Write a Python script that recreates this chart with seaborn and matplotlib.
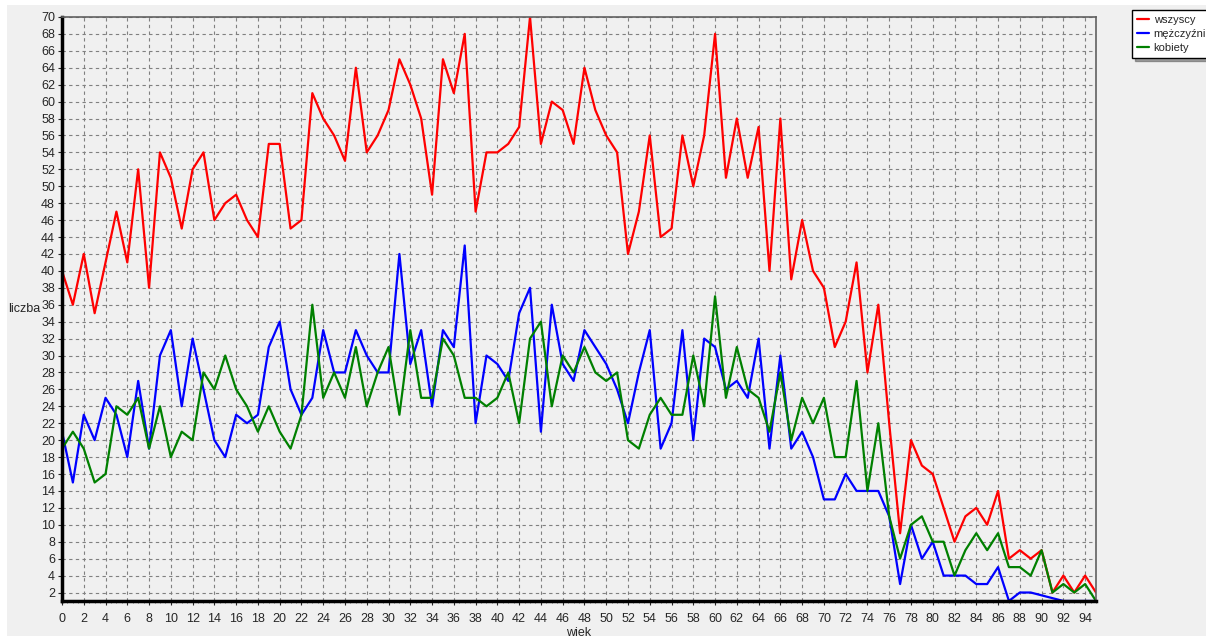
import matplotlib
matplotlib.use("Agg")
import matplotlib.pyplot as plt
from matplotlib.patches import Rectangle
from matplotlib.ticker import MultipleLocator
import seaborn as sns

# --- dane ---
wiek = list(range(96))

wszyscy = [40, 36, 42, 35, 41, 47, 41, 52, 38, 54,
           51, 45, 52, 54, 46, 48, 49, 46, 44, 55,
           55, 45, 46, 61, 58, 56, 53, 64, 54, 56,
           59, 65, 62, 58, 49, 65, 61, 68, 47, 54,
           54, 55, 57, 70, 55, 60, 59, 55, 64, 59,
           56, 54, 42, 47, 56, 44, 45, 56, 50, 56,
           68, 51, 58, 51, 57, 40, 58, 39, 46, 40,
           38, 31, 34, 41, 28, 36, 22, 9, 20, 17,
           16, 12, 8, 11, 12, 10, 14, 6, 7, 6,
           7, 2, 4, 2, 4, 2]

kobiety = [19, 21, 19, 15, 16, 24, 23, 25, 19, 24,
           18, 21, 20, 28, 26, 30, 26, 24, 21, 24,
           21, 19, 23, 36, 25, 28, 25, 31, 24, 28,
           31, 23, 33, 25, 25, 32, 30, 25, 25, 24,
           25, 28, 22, 32, 34, 24, 30, 28, 31, 28,
           27, 28, 20, 19, 23, 25, 23, 23, 30, 24,
           37, 25, 31, 26, 25, 21, 28, 20, 25, 22,
           25, 18, 18, 27, 14, 22, 11, 6, 10, 11,
           8, 8, 4, 7, 9, 7, 9, 5, 5, 4,
           7, 2, 3, 2, 3, 1]

# brak mężczyzn w wieku 90, 91 i 93 -> tych punktów nie ma na linii
wiek_m = list(range(90)) + [92, 94, 95]
mezczyzni = [21, 15, 23, 20, 25, 23, 18, 27, 19, 30,
             33, 24, 32, 26, 20, 18, 23, 22, 23, 31,
             34, 26, 23, 25, 33, 28, 28, 33, 30, 28,
             28, 42, 29, 33, 24, 33, 31, 43, 22, 30,
             29, 27, 35, 38, 21, 36, 29, 27, 33, 31,
             29, 26, 22, 28, 33, 19, 22, 33, 20, 32,
             31, 26, 27, 25, 32, 19, 30, 19, 21, 18,
             13, 13, 16, 14, 14, 14, 11, 3, 10, 6,
             8, 4, 4, 4, 3, 3, 5, 1, 2, 2,
             1, 1, 1]

sns.set_style("ticks")
plt.rcParams['font.family'] = ['Liberation Sans', 'DejaVu Sans']

fig = plt.figure(figsize=(12.06, 6.42), dpi=100, facecolor='white')
# szare tło okna
fig.patches.append(Rectangle((0.0058, 0.0093), 1.0, 0.983, transform=fig.transFigure,
                             facecolor='#f0f0f0', edgecolor='none', zorder=-10))

ax = fig.add_axes([0.0514, 0.0639, 0.8574, 0.9097])
ax.set_facecolor('#f0f0f0')

sns.lineplot(x=wiek, y=wszyscy, ax=ax, color='#ff0000', linewidth=1.6, label='wszyscy')
sns.lineplot(x=wiek_m, y=mezczyzni, ax=ax, color='#0000ff', linewidth=1.6, label='mężczyźni')
sns.lineplot(x=wiek, y=kobiety, ax=ax, color='#008000', linewidth=1.6, label='kobiety')

ax.set_xlim(0, 95)
ax.set_ylim(1, 70)
ax.xaxis.set_major_locator(MultipleLocator(2))
ax.xaxis.set_minor_locator(MultipleLocator(0.5))
ax.yaxis.set_major_locator(MultipleLocator(2))

ax.grid(True, which='major', linestyle=(0, (3, 3)), color='#808080', linewidth=0.8)
ax.tick_params(axis='both', which='major', labelsize=9, length=3, width=0.8, pad=2)
ax.tick_params(axis='x', which='minor', length=1.5, width=0.5, color='#555555')
ax.tick_params(axis='x', pad=6)

for side in ['left', 'bottom']:
    ax.spines[side].set_color('black')
    ax.spines[side].set_linewidth(2.5)
for side in ['top', 'right']:
    ax.spines[side].set_visible(True)
    ax.spines[side].set_color('#606060')
    ax.spines[side].set_linewidth(1.2)

ax.set_xlabel('wiek', fontsize=9, va='center')
ax.xaxis.set_label_coords(0.5, -0.055)
ax.set_ylabel('liczba', fontsize=9, rotation=0, ha='right', va='center')
ax.yaxis.set_label_coords(-0.021, 0.5)

ax.legend(loc='upper left', bbox_to_anchor=(1132 / 1206, 1 - 10 / 642),
          bbox_transform=fig.transFigure, fontsize=8, frameon=True, fancybox=False,
          shadow=True, edgecolor='black', facecolor='white', framealpha=1,
          handlelength=1.1, borderpad=0.45, borderaxespad=0, labelspacing=0.35,
          handletextpad=0.4)

fig.savefig('out.png', dpi=100, facecolor=fig.get_facecolor())
